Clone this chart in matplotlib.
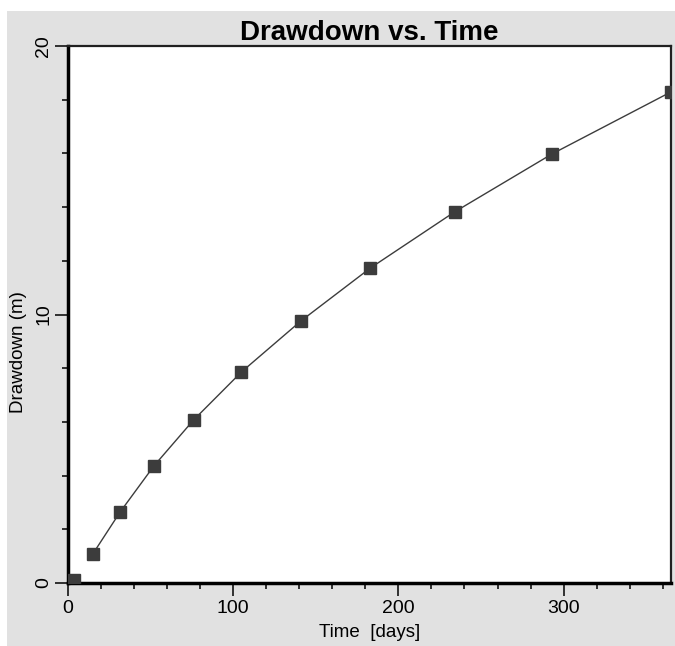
import matplotlib
matplotlib.use("Agg")
import matplotlib.pyplot as plt
from matplotlib.patches import Rectangle
from matplotlib.ticker import MultipleLocator

plt.rcParams['font.family'] = ['Liberation Sans', 'DejaVu Sans']

# values
time_days = [3.6, 15, 31.5, 52, 76, 105, 141, 183, 234, 293, 365]
drawdown_m = [0.1, 1.08, 2.64, 4.36, 6.07, 7.86, 9.76, 11.73, 13.82, 15.98, 18.29]

title = "Drawdown vs. Time"
xlabel = "Time  [days]"
ylabel = "Drawdown (m)"

panel_grey = "#e1e1e1"
mark_col = "#3c3c3c"

fig = plt.figure(figsize=(6.75, 6.46), dpi=100)
fig.patch.set_facecolor("white")
# grey panel, leaving a white strip at top and left
fig.patches.append(Rectangle((7 / 675, 0), 1, 1 - 11 / 646, transform=fig.transFigure,
                             facecolor=panel_grey, edgecolor="none", zorder=-10))

ax = fig.add_axes([68 / 675, 63 / 646, (671 - 68) / 675, (583 - 46) / 646])
ax.set_facecolor("white")

ax.plot(time_days[1:], drawdown_m[1:], color=mark_col, lw=1.0, zorder=2)
ax.plot(time_days, drawdown_m, ls="none", marker="s", ms=8.5, color=mark_col, zorder=3)

ax.set_xlim(0, 365)
ax.set_ylim(0, 20)
ax.xaxis.set_major_locator(MultipleLocator(100))
ax.xaxis.set_minor_locator(MultipleLocator(20))
ax.yaxis.set_major_locator(MultipleLocator(10))
ax.yaxis.set_minor_locator(MultipleLocator(2))

ax.tick_params(which="major", direction="out", length=9.5, width=1.1, labelsize=14)
ax.tick_params(axis="x", which="major", pad=3)
ax.tick_params(axis="y", which="major", pad=2)
ax.tick_params(which="minor", direction="out", length=4.5, width=1.1)
for lab in ax.get_yticklabels():
    lab.set_rotation(90)
    lab.set_va("center")

for side in ["left", "bottom"]:
    ax.spines[side].set_linewidth(2.5)
    ax.spines[side].set_color("black")
for side in ["top", "right"]:
    ax.spines[side].set_linewidth(1.6)
    ax.spines[side].set_color("#202020")

ax.set_xlabel(xlabel, fontsize=13.5, labelpad=5)
ax.set_ylabel(ylabel, fontsize=13.5)
ax.yaxis.set_label_coords(-0.068, 0.43)
ax.set_title(title, fontsize=20, fontweight="bold", pad=4)

fig.savefig("out.png", dpi=100, facecolor=fig.get_facecolor())
